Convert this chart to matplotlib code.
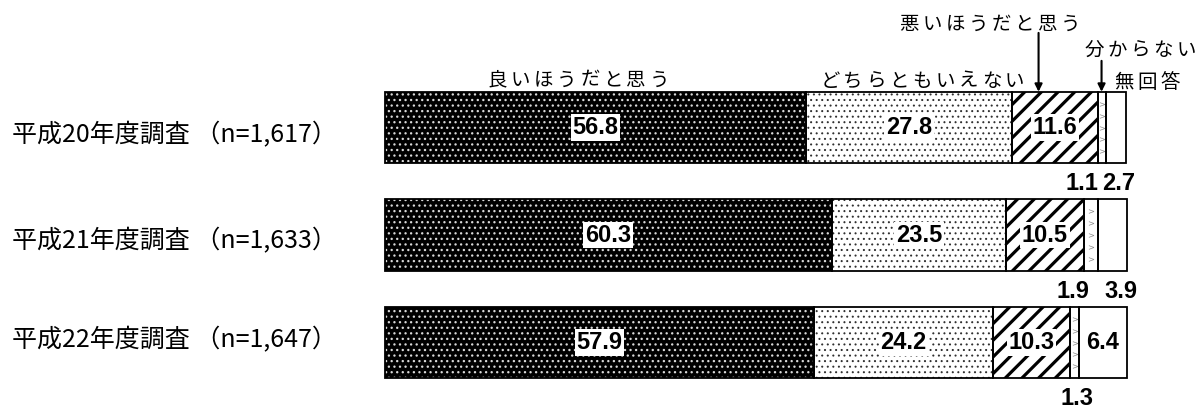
import matplotlib
matplotlib.use("Agg")
import matplotlib.pyplot as plt
import numpy as np

plt.rcParams['font.family'] = ['Noto Sans CJK JP', 'DejaVu Sans']

# data
surveys = ["平成20年度調査 （n=1,617）", "平成21年度調査 （n=1,633）", "平成22年度調査 （n=1,647）"]
categories = ["良いほうだと思う", "どちらともいえない", "悪いほうだと思う", "分からない", "無回答"]
h20 = [56.8, 27.8, 11.6, 1.1, 2.7]
h21 = [60.3, 23.5, 10.5, 1.9, 3.9]
h22 = [57.9, 24.2, 10.3, 1.3, 6.4]
values = [h20, h21, h22]

# layout (placement tweaks, not data)
below_offsets = {(0, 3): -20, (0, 4): 3, (1, 3): -18, (1, 4): 9, (2, 3): 2}  # px
header_pos = [(-7.5, -0.44), (72.5, -0.43), (81.6, -0.96), (101.9, -0.72), (102.8, -0.42)]
arrow_from = [None, None, (88.2, -0.88), (96.7, -0.62), None]
label_dy = [0.07, 0.06, -0.02]
bar_h = 0.665
px_per_pct = 7.41


def spaced(ax, x, y, s, size, pitch):
    n = len(s)
    for i, ch in enumerate(s):
        ax.annotate(ch, xy=(x, y), xytext=((i - (n - 1) / 2) * pitch, 0),
                    textcoords='offset points', ha='center', va='center',
                    fontsize=size)


def hatch_lw(bars, lw):
    for p in bars:
        if hasattr(p, 'set_hatch_linewidth'):
            p.set_hatch_linewidth(lw)


def main():
    fig = plt.figure(figsize=(12.04, 4.08), dpi=100)
    ax = fig.add_axes([0, 0, 1, 1])
    ax.set_xlim(-385 / px_per_pct, (1204 - 385) / px_per_pct)
    ax.set_ylim((408 - 127.5) / 107.5, -127.5 / 107.5)
    ax.axis('off')

    num_font = dict(family='Liberation Sans', weight='bold', fontsize=17)

    for r, vals in enumerate(values):
        lefts = np.concatenate([[0], np.cumsum(vals)[:-1]])
        # 0: black with white dots
        b = ax.barh(r, vals[0], left=lefts[0], height=bar_h, color='black',
                    edgecolor='#d8d8d8', hatch='...', linewidth=0)
        hatch_lw(b, 0.9)
        # 1: white with black dots
        b = ax.barh(r, vals[1], left=lefts[1], height=bar_h, color='white',
                    edgecolor='#303030', hatch='...', linewidth=0)
        hatch_lw(b, 0.7)
        # 2: thick diagonal stripes
        b = ax.barh(r, vals[2], left=lefts[2], height=bar_h, color='white',
                    edgecolor='black', hatch='//', linewidth=0)
        hatch_lw(b, 2.3)
        # 3: small grey marks
        ax.barh(r, vals[3], left=lefts[3], height=bar_h, color='white', linewidth=0)
        ys = r + np.linspace(-0.22, 0.22, 5)
        ax.scatter(np.full(5, lefts[3] + vals[3] / 2), ys, marker='$>$', s=14,
                   color='#8a8a8a', linewidths=0, zorder=3)
        # 4: plain white
        ax.barh(r, vals[4], left=lefts[4], height=bar_h, color='white', linewidth=0)
        # outlines
        ax.barh([r] * 5, vals, left=lefts, height=bar_h, fill=False,
                edgecolor='black', linewidth=1.3, zorder=4)

        for k, v in enumerate(vals):
            cx = lefts[k] + v / 2
            if v >= 5:
                ax.text(cx, r, f"{v:.1f}", ha='center', va='center', zorder=5,
                        bbox=dict(boxstyle='square,pad=0.08', fc='white', ec='none'),
                        **num_font)
            else:
                off = below_offsets.get((r, k), 0) / px_per_pct
                ax.text(cx + off, r + bar_h / 2 + 0.19, f"{v:.1f}", ha='center',
                        va='center', **num_font)

        ax.text(-50.3, r + label_dy[r], surveys[r], ha='left', va='center', fontsize=18)

    for k, name in enumerate(categories):
        x, y = header_pos[k]
        if k == 0:
            x = values[0][0] / 2 - 2.3
        spaced(ax, x, y, name, 14, 16.6)
        if arrow_from[k] is not None:
            ax.annotate('', xy=(arrow_from[k][0], -bar_h / 2), xytext=arrow_from[k],
                        arrowprops=dict(arrowstyle='-|>', color='black', lw=1.5,
                                        mutation_scale=11, shrinkA=0, shrinkB=0),
                        zorder=6)

    fig.savefig("out.png", dpi=100)


if __name__ == "__main__":
    main()
